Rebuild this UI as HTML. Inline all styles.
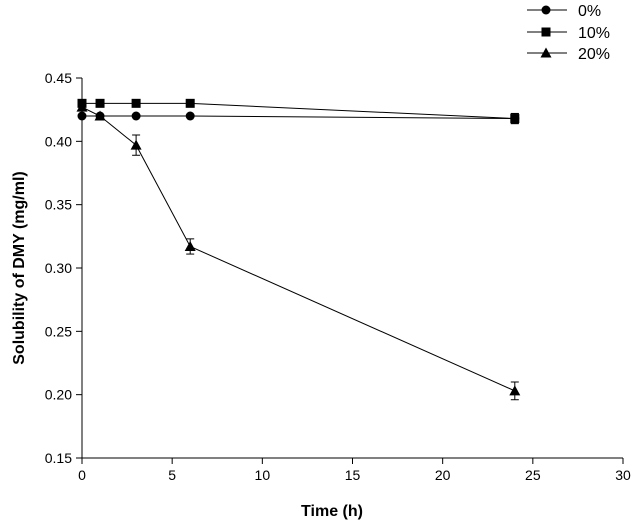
<!DOCTYPE html>
<html><head><meta charset="utf-8"><style>body{margin:0;background:#fff}svg{display:block;font-family:"Liberation Sans",Arial,sans-serif}</style></head>
<body>
<svg id="c" width="635" height="522"></svg>
<script>
const times=[0,1,3,6,24];
const s0=[0.420,0.420,0.420,0.420,0.418];
const s10=[0.430,0.430,0.430,0.430,0.418];
const s20=[0.427,0.420,0.397,0.317,0.203];
const e0=[0,0,0,0,0.004];
const e10=[0,0,0,0,0.004];
const e20=[0,0,0.008,0.006,0.007];
const xTicks=[0,5,10,15,20,25,30];
const yTicks=[0.15,0.20,0.25,0.30,0.35,0.40,0.45];
const seriesNames=["0%","10%","20%"];
const NS="http://www.w3.org/2000/svg";
const svg=document.getElementById('c');
const X=v=>82+v*(541/30);
const Y=v=>458-(v-0.15)*(380/0.30);
function el(t,a,p){const e=document.createElementNS(NS,t);for(const k in a)e.setAttribute(k,a[k]);(p||svg).appendChild(e);return e;}
const ax=el('line',{x1:82,y1:Y(0.45),x2:82,y2:458,stroke:'#000','stroke-width':1});


const bx=el('line',{x1:82,y1:458,x2:X(30),y2:458,stroke:'#000','stroke-width':1});


xTicks.forEach(t=>{
 el('line',{x1:X(t),y1:458,x2:X(t),y2:464,stroke:'#000'});
 const tx=el('text',{x:X(t),y:480,'font-size':14,'text-anchor':'middle'});tx.textContent=t;
 
 
});
yTicks.forEach(t=>{
 el('line',{x1:76,y1:Y(t),x2:82,y2:Y(t),stroke:'#000'});
 const tx=el('text',{x:72,y:Y(t)+5,'font-size':14,'text-anchor':'end'});tx.textContent=t.toFixed(2);
 
 
});
const xt=el('text',{x:332,y:516,'font-size':16,'font-weight':'bold','text-anchor':'middle'});xt.textContent='Time (h)';


const yt=el('text',{x:24,y:268,'font-size':16,'font-weight':'bold','text-anchor':'middle',transform:'rotate(-90 24 268)'});yt.textContent='Solubility of DMY (mg/ml)';


function marker(kind,x,y,g){
 if(kind===0)return el('circle',{cx:x,cy:y,r:4.5,fill:'#000'},g);
 if(kind===1)return el('rect',{x:x-4.5,y:y-4.5,width:9,height:9,fill:'#000'},g);
 return el('polygon',{points:`${x},${y-5.5} ${x-5.5},${y+4.5} ${x+5.5},${y+4.5}`,fill:'#000'},g);
}
const all=[s0,s10,s20],errs=[e0,e10,e20];
all.forEach((s,k)=>{
 const g=el('g',{});
 
 
 el('polyline',{points:times.map((t,i)=>X(t)+','+Y(s[i])).join(' '),fill:'none',stroke:'#000','stroke-width':1},g);
 times.forEach((t,i)=>{
  const e=errs[k][i];
  if(e>0){const x=X(t),y1=Y(s[i]+e),y2=Y(s[i]-e);
   el('line',{x1:x,y1:y1,x2:x,y2:y2,stroke:'#000'},g);
   el('line',{x1:x-4,y1:y1,x2:x+4,y2:y1,stroke:'#000'},g);
   el('line',{x1:x-4,y1:y2,x2:x+4,y2:y2,stroke:'#000'},g);}
  const m=marker(k,X(t),Y(s[i]),g);
  
  
 });
});
const ly=[10,32,53];
seriesNames.forEach((n,k)=>{
 const g=el('g',{});
 
 
 el('line',{x1:527,y1:ly[k],x2:567,y2:ly[k],stroke:'#000'},g);
 marker(k,546,ly[k],g);
 const t=el('text',{x:578,y:ly[k]+6,'font-size':16},g);t.textContent=n;
});
</script>
</body></html>
